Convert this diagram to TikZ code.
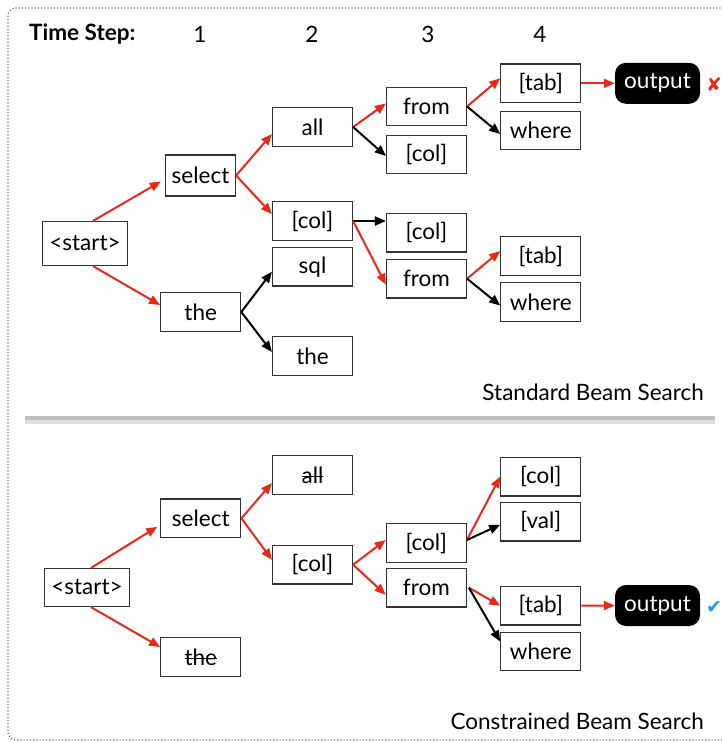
\documentclass[tikz,border=0pt]{standalone}
\usepackage{fontspec}
\setmainfont{Lato}
\newfontfamily\symfont{DejaVu Sans}
\usetikzlibrary{arrows.meta,calc}
\definecolor{myred}{RGB}{232,40,24}
\definecolor{myblue}{RGB}{30,150,240}
\newcommand\strk[1]{\sbox0{#1}\rlap{\rule[0.27em]{\wd0}{0.07em}}#1}
\begin{document}
\begin{tikzpicture}[x=1pt,y=-1pt,
 box/.style={draw=black!80,line width=1.2pt,minimum width=80pt,minimum height=38.5pt,inner sep=0pt,font=\fontsize{22.5}{26}\selectfont},
 outbox/.style={fill=black,rounded corners=11pt,minimum width=85pt,minimum height=41pt,text=white,inner sep=0pt,font=\fontsize{22.5}{26}\selectfont},
 ra/.style={draw=myred,line width=2pt,-{Triangle[length=11pt,width=9pt]}},
 ba/.style={draw=black,line width=2pt,-{Triangle[length=11pt,width=9pt]}},
 lbl/.style={font=\fontsize{22.5}{26}\selectfont,inner sep=0pt}]
\useasboundingbox (0,0) rectangle (722,742);
\draw[black!55,dotted,line width=1.2pt,rounded corners=8pt] (8,8) rectangle (760,740);

% header
\node[lbl,anchor=west,font=\fontsize{22.5}{26}\selectfont\bfseries] (ts) at (29,34) {Time Step:};
\node[lbl] (t1) at (200,34) {1};
\node[lbl] (t2) at (312,34) {2};
\node[lbl] (t3) at (428,34) {3};
\node[lbl] (t4) at (540,34) {4};

% separator
\draw[line width=5pt,black!12] (25,421) -- (715,421);
\draw[line width=4pt,black!25] (25,418) -- (715,418);

% ---------- standard beam search ----------
\node[box,minimum width=85pt,minimum height=44pt] (s1) at (85,243.5) {<start>};
\node[box,minimum width=70pt,minimum height=41pt] (sel1) at (200.5,175.5) {select};
\node[box,minimum height=39pt] (the1) at (200.7,312) {the};
\node[box] (all1) at (312.5,127) {all};
\node[box] (col21) at (312.5,221) {[col]};
\node[box] (sql1) at (312.5,266.7) {sql};
\node[box] (the21) at (312.5,356) {the};
\node[box] (from31) at (426.5,106.5) {from};
\node[box] (col31) at (426.5,154.5) {[col]};
\node[box] (col32) at (426.5,232.7) {[col]};
\node[box] (from32) at (426.5,278.7) {from};
\node[box] (tab41) at (540.8,83.3) {[tab]};
\node[box] (where41) at (540.8,130.5) {where};
\node[box] (tab42) at (540.8,256) {[tab]};
\node[box] (where42) at (540.8,302) {where};
\node[outbox] (out1) at (657.5,83.3) {output};
\node[lbl,text=myred,font=\symfont\fontsize{19}{22}\selectfont] (x1) at (714,84) {✘};
\node[lbl,anchor=east] (lab1) at (704,392) {Standard Beam Search};

\draw[ra] ([xshift=8pt]s1.north) -- ([xshift=-4pt,yshift=-6pt]sel1.west);
\draw[ra] ([xshift=8pt]s1.south) -- ([yshift=7pt]the1.west);
\draw[ra] (sel1.east) -- ([yshift=-7pt]all1.west);
\draw[ra] (sel1.east) -- ([yshift=7pt]col21.west);
\draw[ba] (the1.east) -- ([yshift=-5pt]sql1.west);
\draw[ba] (the1.east) -- ([yshift=4pt]the21.west);
\draw[ra] (all1.east) -- ([yshift=3pt]from31.west);
\draw[ba] (all1.east) -- ([yshift=-1.5pt]col31.west);
\draw[ba] (col21.east) -- (col21.east -| col32.west);
\draw[ra] (col21.east) -- ([yshift=-6pt]from32.west);
\draw[ra] (from31.east) -- ([yshift=5pt]tab41.west);
\draw[ba] (from31.east) -- ([yshift=-3.5pt]where41.west);
\draw[ra] (from32.east) -- ([yshift=5pt]tab42.west);
\draw[ba] (from32.east) -- ([yshift=-3.5pt]where42.west);
\draw[ra] (tab41.east) -- (out1.west);

% ---------- constrained beam search ----------
\node[box,minimum width=85pt,minimum height=38pt] (s2) at (87,587.5) {<start>};
\node[box] (sel2) at (200.8,518.3) {select};
\node[box] (the2) at (200.8,657) {\strk{the}};
\node[box] (all2) at (312.5,475) {\strk{all}};
\node[box] (col22) at (312.5,564.7) {[col]};
\node[box] (col33) at (426.3,543) {[col]};
\node[box] (from33) at (426.3,587.7) {from};
\node[box] (col43) at (540.8,476.7) {[col]};
\node[box] (val43) at (540.8,521.7) {[val]};
\node[box] (tab43) at (540.8,605.7) {[tab]};
\node[box] (where43) at (540.8,651.5) {where};
\node[outbox] (out2) at (657.5,605.5) {output};
\node[lbl,text=myblue,font=\symfont\fontsize{19}{22}\selectfont] (ck) at (714,607) {✔};
\node[lbl,anchor=east] (lab2) at (704,721) {Constrained Beam Search};

\draw[ra] ([xshift=4pt]s2.north) -- ([xshift=-3pt,yshift=-8.5pt]sel2.west);
\draw[ra] ([xshift=4pt]s2.south) -- ([yshift=10pt]the2.west);
\draw[ra] (sel2.east) -- ([yshift=-8pt]all2.west);
\draw[ra] (sel2.east) -- ([yshift=5pt]col22.west);
\draw[ra] (col22.east) -- ([yshift=3pt]col33.west);
\draw[ra] (col22.east) -- ([yshift=-7pt]from33.west);
\draw[ra] ([yshift=3pt]col33.east) -- (col43.west);
\draw[ba] ([yshift=3pt]col33.east) -- ([yshift=-3pt]val43.west);
\draw[ra] ([xshift=2pt]from33.east) -- (tab43.west);
\draw[ba] ([xshift=2pt]from33.east) -- ([yshift=10pt]where43.west);
\draw[ra] (tab43.east) -- (out2.west);
\end{tikzpicture}
\end{document}
